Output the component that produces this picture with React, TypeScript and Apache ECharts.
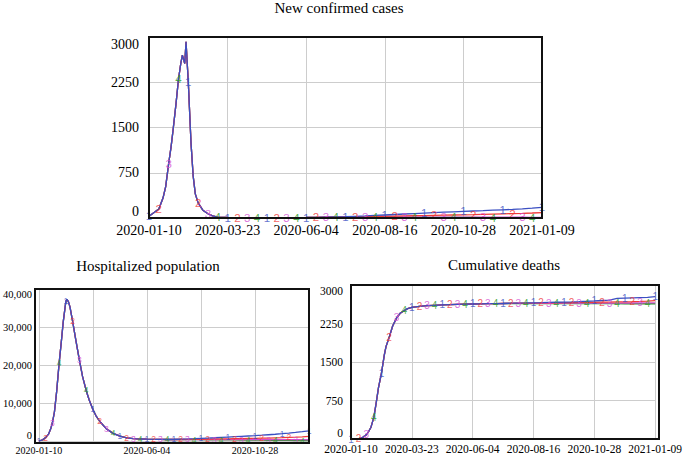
import React, { useEffect, useRef } from "react";
import * as echarts from "echarts";

// ---------- data ----------
const START_UTC = Date.UTC(2020, 0, 10);
const SERIES_LABELS = ["1", "2", "3", "4"];
const COLORS = ["#3b4fc2", "#f03a3a", "#d24ed2", "#2a9a2a"];
const MARKER_STEP = 9.125;
const MARKER_CYCLE = 36.5;

const LATE_DAYS = [191.625, 200.75, 209.875, 219, 228.125, 237.25, 246.375, 255.5, 264.625, 273.75, 282.875, 292, 301.125, 310.25, 319.375, 328.5, 337.625, 346.75, 355.875, 365];

// New confirmed cases
const CASES_EARLY_DAYS = [0, 9.125, 13, 15.5, 18.25, 20.5, 22.5, 25, 27.375, 29.5, 31, 33.2, 34.4, 36.5, 39, 41, 43, 45.625, 50, 54.75, 59, 63.875, 73, 82.125, 91.25, 100.375, 109.5, 118.625, 127.75, 136.875, 146, 155.125, 164.25, 173.375, 182.5];
const CASES_EARLY = [30, 150, 330, 520, 900, 1180, 1480, 1880, 2300, 2560, 2700, 2560, 2920, 2250, 1250, 700, 400, 250, 130, 70, 35, 15, 8, 5, 5, 5, 5, 5, 6, 7, 8, 10, 14, 18, 22];
const CASES_LATE_1 = [28, 34, 42, 50, 58, 66, 74, 82, 89, 96, 103, 110, 116, 122, 129, 136, 143, 152, 162, 175];
const CASES_LATE_2 = [22, 24, 26, 29, 32, 35, 38, 41, 44, 47, 50, 53, 56, 60, 64, 68, 72, 77, 83, 90];
const CASES_LATE_3 = [20, 19, 19, 18, 18, 17, 17, 16, 16, 15, 15, 15, 14, 14, 14, 13, 13, 13, 12, 12];
const CASES_LATE_4 = [18, 16, 15, 14, 13, 12, 11, 10, 10, 9, 9, 8, 8, 7, 7, 6, 6, 5, 5, 5];

// Hospitalized population
const HOSP_EARLY_DAYS = [0, 5, 9.125, 13, 16, 18.25, 21, 24, 27.375, 30, 33, 36.5, 38, 40, 42, 45.625, 50, 54.75, 59, 63.875, 68, 73, 77, 82.125, 91.25, 100.375, 109.5, 118.625, 127.75, 136.875, 146, 155.125, 164.25, 173.375, 182.5];
const HOSP_EARLY = [0, 300, 900, 1800, 3200, 4800, 7600, 13000, 20500, 25500, 31500, 36800, 37300, 36600, 35300, 31500, 26500, 21300, 17000, 13300, 10800, 8300, 6700, 5200, 3200, 2000, 1300, 850, 620, 520, 470, 430, 410, 400, 400];
const HOSP_LATE_1 = [500, 550, 620, 700, 780, 860, 950, 1040, 1130, 1220, 1310, 1400, 1520, 1650, 1780, 1920, 2080, 2250, 2450, 2680];
const HOSP_LATE_2 = [400, 420, 440, 460, 490, 520, 550, 580, 610, 640, 670, 700, 740, 780, 830, 880, 940, 1010, 1100, 1200];
const HOSP_LATE_3 = [400, 400, 395, 390, 385, 380, 380, 375, 370, 370, 365, 360, 360, 355, 350, 350, 345, 340, 340, 335];
const HOSP_LATE_4 = [390, 380, 365, 350, 335, 320, 305, 290, 275, 260, 245, 230, 215, 200, 180, 160, 140, 120, 100, 80];

// Cumulative deaths
const DEATH_EARLY_DAYS = [0, 9.125, 13, 18.25, 21, 24, 27.375, 30, 33, 36.5, 40, 42, 45.625, 50, 54.75, 59, 63.875, 68, 73, 82.125, 91.25, 100.375, 109.5, 118.625, 127.75, 136.875, 146, 155.125, 164.25, 173.375, 182.5];
const DEATH_EARLY = [0, 5, 20, 80, 140, 230, 420, 680, 1000, 1280, 1640, 1800, 1970, 2200, 2360, 2450, 2500, 2540, 2565, 2585, 2598, 2605, 2612, 2618, 2622, 2626, 2630, 2633, 2636, 2638, 2640];
const DEATH_LATE_1 = [2645, 2648, 2650, 2653, 2656, 2660, 2664, 2668, 2672, 2677, 2683, 2690, 2698, 2706, 2740, 2745, 2750, 2755, 2760, 2775];
const DEATH_LATE_2 = [2642, 2644, 2646, 2648, 2650, 2652, 2654, 2656, 2658, 2660, 2662, 2664, 2666, 2668, 2670, 2672, 2675, 2680, 2686, 2695];
const DEATH_LATE_3 = [2641, 2642, 2642, 2643, 2643, 2644, 2644, 2645, 2645, 2646, 2646, 2647, 2647, 2648, 2648, 2649, 2649, 2650, 2650, 2650];
const DEATH_LATE_4 = [2640, 2640, 2640, 2639, 2639, 2639, 2638, 2638, 2638, 2637, 2637, 2637, 2636, 2636, 2636, 2635, 2635, 2635, 2635, 2635];

// ---------- layout ----------
const SERIF = "'Liberation Serif', 'Times New Roman', serif";
const SANS = "'Liberation Sans', Arial, sans-serif";

const PANELS = [
  {
    title: "New confirmed cases",
    titleX: 339, titleY: 8,
    grid: { left: 149, top: 37, width: 393, height: 181 },
    yMax: 3000, yInterval: 750, comma: false,
    yFont: 14, xFont: 14, yMargin: 10, xMargin: 5, markerFont: 11.5, xEvery: 1,
    earlyDays: CASES_EARLY_DAYS, early: CASES_EARLY,
    late: [CASES_LATE_1, CASES_LATE_2, CASES_LATE_3, CASES_LATE_4],
  },
  {
    title: "Hospitalized population",
    titleX: 148, titleY: 266,
    grid: { left: 35, top: 289, width: 274, height: 154 },
    yMax: 40000, yInterval: 10000, comma: true,
    yFont: 10.5, xFont: 10, yMargin: 7, xMargin: 4, markerFont: 8.5, xEvery: 2,
    earlyDays: HOSP_EARLY_DAYS, early: HOSP_EARLY,
    late: [HOSP_LATE_1, HOSP_LATE_2, HOSP_LATE_3, HOSP_LATE_4],
  },
  {
    title: "Cumulative deaths",
    titleX: 504, titleY: 265,
    grid: { left: 351, top: 285, width: 308, height: 154 },
    yMax: 3000, yInterval: 750, comma: false,
    yFont: 11.5, xFont: 11.5, yMargin: 8, xMargin: 4, markerFont: 10, xEvery: 1,
    earlyDays: DEATH_EARLY_DAYS, early: DEATH_EARLY,
    late: [DEATH_LATE_1, DEATH_LATE_2, DEATH_LATE_3, DEATH_LATE_4],
  },
];

function dayLabel(v: number): string {
  const d = new Date(START_UTC + Math.round(v) * 86400000);
  return d.toISOString().slice(0, 10);
}

function buildOption() {
  const grids: any[] = [];
  const xAxes: any[] = [];
  const yAxes: any[] = [];
  const series: any[] = [];
  const graphics: any[] = [];

  PANELS.forEach((p, gi) => {
    grids.push({ ...p.grid, containLabel: false });
    xAxes.push({
      gridIndex: gi,
      type: "value",
      min: 0,
      max: 365,
      interval: 73,
      axisLine: { show: false },
      axisTick: { show: false },
      splitLine: { show: true, lineStyle: { color: "#cdcdcd", width: 1 } },
      axisLabel: {
        fontFamily: SERIF,
        fontSize: p.xFont,
        color: "#000",
        margin: p.xMargin,
        formatter: (v: number) => {
          const idx = Math.round(v / 73);
          return idx % p.xEvery === 0 ? dayLabel(v) : "";
        },
      },
    });
    yAxes.push({
      gridIndex: gi,
      type: "value",
      min: 0,
      max: p.yMax,
      interval: p.yInterval,
      axisLine: { show: false },
      axisTick: { show: false },
      splitLine: { show: true, lineStyle: { color: "#cdcdcd", width: 1 } },
      axisLabel: {
        fontFamily: SERIF,
        fontSize: p.yFont,
        color: "#000",
        margin: p.yMargin,
        verticalAlignMinLabel: "bottom",
        verticalAlignMaxLabel: "top",
        formatter: (v: number) => (p.comma ? v.toLocaleString("en-US") : String(v)),
      },
    });

    const days = p.earlyDays.concat(LATE_DAYS);
    const order = [3, 2, 1, 0];
    order.forEach((k) => {
      const vals = p.early.concat(p.late[k]);
      const data = days.map((d, i) => [d, vals[i]]);
      series.push({
        type: "line",
        name: SERIES_LABELS[k] + "-" + gi,
        xAxisIndex: gi,
        yAxisIndex: gi,
        data,
        symbol: "none",
        showSymbol: false,
        lineStyle: { color: COLORS[k], width: 1.3 },
        z: 2 + (3 - k),
        silent: true,
      });
      const marks: any[] = [];
      for (let n = 0; n <= 10; n++) {
        const md = k * MARKER_STEP + n * MARKER_CYCLE;
        const idx = days.findIndex((d) => Math.abs(d - md) < 1e-6);
        if (idx >= 0) marks.push([days[idx], vals[idx]]);
      }
      series.push({
        type: "scatter",
        xAxisIndex: gi,
        yAxisIndex: gi,
        data: marks,
        symbol: "circle",
        symbolSize: 1,
        itemStyle: { color: "transparent" },
        silent: true,
        z: 10,
        label: {
          show: true,
          position: "inside",
          formatter: SERIES_LABELS[k],
          color: COLORS[k],
          fontFamily: SANS,
          fontSize: p.markerFont,
        },
      });
    });

    graphics.push({
      type: "text",
      x: p.titleX,
      y: p.titleY,
      z: 100,
      style: {
        text: p.title,
        fill: "#000",
        font: `15px ${SERIF}`,
        textAlign: "center",
        textVerticalAlign: "middle",
      },
    });
    graphics.push({
      type: "rect",
      z: 100,
      silent: true,
      shape: { x: p.grid.left, y: p.grid.top, width: p.grid.width, height: p.grid.height },
      style: { fill: "none", stroke: "#111", lineWidth: 2 },
    });
  });

  return {
    animation: false,
    backgroundColor: "#ffffff",
    grid: grids,
    xAxis: xAxes,
    yAxis: yAxes,
    series,
    graphic: graphics,
  };
}

export default function App() {
  const ref = useRef<HTMLDivElement>(null);
  useEffect(() => {
    if (!ref.current) return;
    const chart = echarts.init(ref.current, undefined, { renderer: "svg" });
    chart.setOption(buildOption() as any);
    return () => chart.dispose();
  }, []);
  return (
    <div
      ref={ref}
      style={{ position: "absolute", left: 0, top: 0, width: 685, height: 455, background: "#fff" }}
    />
  );
}
